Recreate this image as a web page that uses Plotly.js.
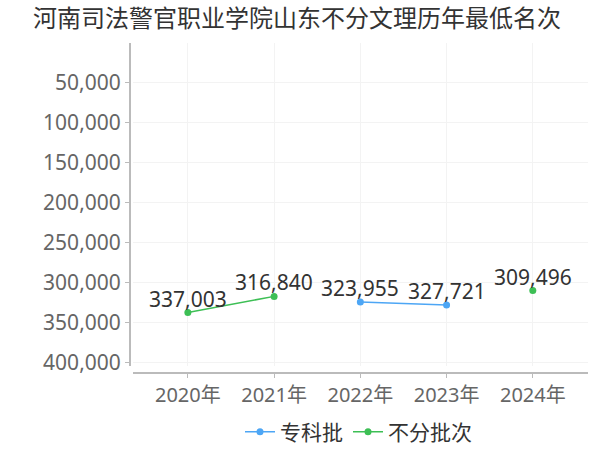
<!DOCTYPE html>
<html>
<head>
<meta charset="utf-8">
<script src="https://cdn.plot.ly/plotly-3.0.1.min.js"></script>
<style>html,body{margin:0;padding:0;background:#fff;}#chart{width:600px;height:450px;}</style>
</head>
<body>
<div id="chart"></div>
<script>
var categories = ["2020年", "2021年", "2022年", "2023年", "2024年"];
var seriesNames = ["专科批", "不分批次"];
var zhuankeValues = [null, null, 323955, 327721, null];
var bufenValues = [337003, 316840, null, null, 309496];
var yTickVals = [50000, 100000, 150000, 200000, 250000, 300000, 350000, 400000];
var yTickText = ["50,000", "100,000", "150,000", "200,000", "250,000", "300,000", "350,000", "400,000"];

var fontFam = "'Noto Sans', 'Noto Sans CJK SC', sans-serif";
var cjkFam = "'Noto Sans CJK SC', sans-serif";

var traces = [
  {
    x: categories, y: zhuankeValues, name: seriesNames[0],
    type: "scatter", mode: "lines+markers",
    line: {color: "#4da6f5", width: 1.5},
    marker: {color: "#4da6f5", size: 7},
    connectgaps: false, cliponaxis: false
  },
  {
    x: categories, y: bufenValues, name: seriesNames[1],
    type: "scatter", mode: "lines+markers",
    line: {color: "#3dbf55", width: 1.5},
    marker: {color: "#3dbf55", size: 7},
    connectgaps: false, cliponaxis: false
  }
];

var annotations = [];
[zhuankeValues, bufenValues].forEach(function (arr) {
  arr.forEach(function (v, i) {
    if (v === null) return;
    annotations.push({
      x: categories[i], y: v, xref: "x", yref: "y",
      text: v.toLocaleString("en-US"), showarrow: false,
      xanchor: "center", yanchor: "bottom", yshift: -2,
      font: {size: 21, color: "#333333", family: fontFam}
    });
  });
});

var layout = {
  width: 600, height: 450,
  paper_bgcolor: "#ffffff", plot_bgcolor: "#ffffff",
  margin: {l: 129, r: 12, t: 43, b: 78},
  font: {family: fontFam, color: "#666666"},
  title: {text: "河南司法警官职业学院山东不分文理历年最低名次", x: 0.495, xanchor: "center",
          yref: "container", y: 0.958, yanchor: "middle",
          font: {size: 24, color: "#333333", family: cjkFam}},
  showlegend: true,
  legend: {orientation: "h", x: 0.5, xanchor: "center", yref: "container", y: 0.04, yanchor: "middle",
           font: {size: 21, color: "#333333", family: cjkFam}, itemwidth: 30, tracegroupgap: 0},
  annotations: annotations,
  xaxis: {
    type: "category", categoryorder: "array", categoryarray: categories,
    range: [-0.64, 4.64], domain: [0.008, 1],
    anchor: "free", position: 0,
    showline: true, linecolor: "#bbbbbb", linewidth: 1.5,
    ticks: "outside", ticklen: 4, tickcolor: "#bbbbbb",
    showgrid: true, gridcolor: "#f3f3f3", zeroline: false,
    tickfont: {size: 20, color: "#666666", family: fontFam}
  },
  yaxis: {
    range: [404000, 0], domain: [0.018, 1],
    anchor: "free", position: 0,
    tickvals: yTickVals, ticktext: yTickText,
    showline: true, linecolor: "#bbbbbb", linewidth: 1.5,
    ticks: "outside", ticklen: 4, tickcolor: "#bbbbbb",
    showgrid: true, gridcolor: "#f3f3f3", zeroline: false,
    tickfont: {size: 21, color: "#666666", family: fontFam}
  }
};

Plotly.newPlot("chart", traces, layout, {displayModeBar: false, staticPlot: true});
</script>
</body>
</html>
